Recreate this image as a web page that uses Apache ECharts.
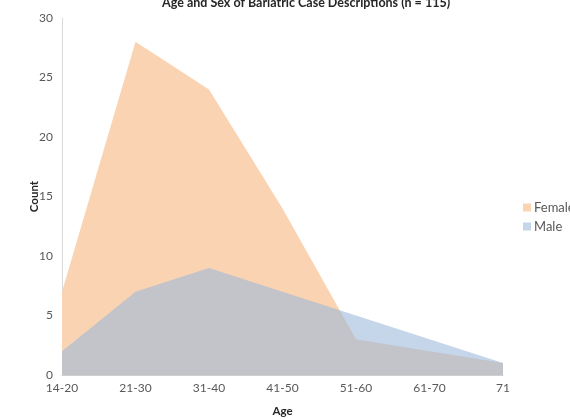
<!DOCTYPE html>
<html>
<head>
<meta charset="utf-8">
<script src="https://cdn.jsdelivr.net/npm/echarts@6/dist/echarts.min.js"></script>
<style>
  html, body { margin: 0; padding: 0; background: #fff; }
  #chart { width: 570px; height: 420px; }
</style>
</head>
<body>
<div id="chart"></div>
<script>
// Age groups along the x axis
const ageGroups = ['14-20', '21-30', '31-40', '41-50', '51-60', '61-70', '71'];
// Case counts per age group
const femaleCounts = [7, 28, 24, 14, 3, 2, 1];
const maleCounts = [2, 7, 9, 7, 5, 3, 1];
const yTicks = { min: 0, max: 30, interval: 5 };

const FONT = 'Lato, "Liberation Sans", sans-serif';
const TEXT = '#595959';

const chart = echarts.init(document.getElementById('chart'), null, { renderer: 'canvas' });

chart.setOption({
  backgroundColor: '#ffffff',
  animation: false,
  title: {
    text: 'Age and Sex of Bariatric Case Descriptions (n = 115)',
    left: 157,
    top: -9,
    textStyle: { fontFamily: FONT, fontSize: 12.5, fontWeight: 'bold', color: '#262626' }
  },
  legend: {
    orient: 'vertical',
    left: 518,
    top: 196,
    itemWidth: 8,
    itemHeight: 8,
    itemGap: 6,
    icon: 'rect',
    textStyle: { fontFamily: FONT, fontSize: 13, color: TEXT, padding: [0, 0, 0, -2] },
    data: [
      { name: 'Female', itemStyle: { color: '#FAD4B2' } },
      { name: 'Male', itemStyle: { color: '#C5D6EB' } }
    ]
  },
  grid: { left: 62, right: 67, top: 18, bottom: 45, containLabel: false, outerBoundsMode: 'none' },
  xAxis: {
    type: 'category',
    data: ageGroups,
    boundaryGap: false,
    name: 'Age',
    nameLocation: 'middle',
    nameGap: 30,
    nameMoveOverlap: false,
    nameTextStyle: { fontFamily: FONT, fontSize: 11.5, fontWeight: 'bold', color: '#262626' },
    axisLine: { show: true, lineStyle: { color: '#D0D0D0', width: 1 } },
    axisTick: { show: false },
    axisLabel: { fontFamily: FONT, fontSize: 12, color: TEXT, margin: 7 },
    splitLine: { show: false }
  },
  yAxis: {
    type: 'value',
    min: yTicks.min,
    max: yTicks.max,
    interval: yTicks.interval,
    name: 'Count',
    nameLocation: 'middle',
    nameGap: 22,
    nameMoveOverlap: false,
    nameRotate: 90,
    nameTextStyle: { fontFamily: FONT, fontSize: 11.5, fontWeight: 'bold', color: '#262626' },
    axisLine: { show: true, lineStyle: { color: '#D9D9D9', width: 1 } },
    axisTick: { show: false },
    axisLabel: { fontFamily: FONT, fontSize: 12, color: TEXT, margin: 9 },
    splitLine: { show: false }
  },
  series: [
    {
      name: 'Female',
      type: 'line',
      data: femaleCounts,
      symbol: 'none',
      lineStyle: { width: 0 },
      itemStyle: { color: '#FAD4B2' },
      areaStyle: { color: '#FAD4B2', opacity: 1 },
      z: 2
    },
    {
      name: 'Male',
      type: 'line',
      data: maleCounts,
      symbol: 'none',
      lineStyle: { width: 0 },
      itemStyle: { color: '#9BB7DB' },
      areaStyle: { color: '#9BB7DB', opacity: 0.58 },
      z: 3
    }
  ]
});
</script>
</body>
</html>
